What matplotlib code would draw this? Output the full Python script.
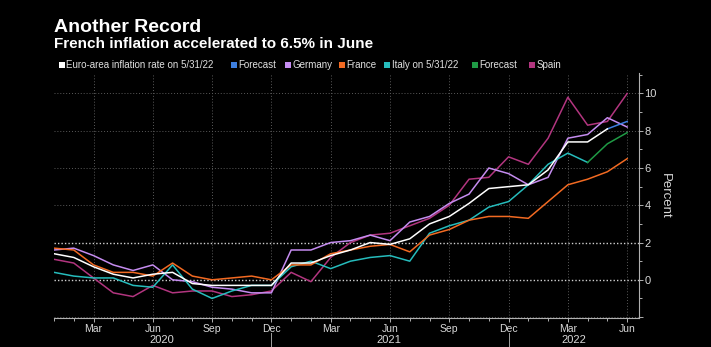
import numpy as np
import matplotlib
matplotlib.use("Agg")
import matplotlib.pyplot as plt
from matplotlib.patches import Rectangle
from matplotlib.transforms import blended_transform_factory

plt.rcParams["font.family"] = ["Liberation Sans", "DejaVu Sans"]

# Monthly year-on-year inflation, Jan 2020 .. Jun 2022 (percent)
month_names = ["Jan", "Feb", "Mar", "Apr", "May", "Jun",
               "Jul", "Aug", "Sep", "Oct", "Nov", "Dec"]
years = ["2020", "2021", "2022"]

euro_area = [1.4, 1.2, 0.7, 0.3, 0.1, 0.3, 0.4, -0.2, -0.3, -0.3, -0.3, -0.3,
             0.9, 0.9, 1.3, 1.6, 2.0, 1.9, 2.2, 3.0, 3.4, 4.1, 4.9, 5.0,
             5.1, 5.9, 7.4, 7.4, 8.1]
euro_forecast = [8.1, 8.5]                      # May -> Jun 2022
germany = [1.6, 1.7, 1.3, 0.8, 0.5, 0.8, 0.0, -0.1, -0.4, -0.5, -0.7, -0.7,
           1.6, 1.6, 2.0, 2.1, 2.4, 2.1, 3.1, 3.4, 4.1, 4.6, 6.0, 5.7,
           5.1, 5.5, 7.6, 7.8, 8.7, 8.2]
france = [1.7, 1.6, 0.8, 0.4, 0.4, 0.2, 0.9, 0.2, 0.0, 0.1, 0.2, 0.0,
          0.8, 0.8, 1.4, 1.6, 1.8, 1.9, 1.5, 2.4, 2.7, 3.2, 3.4, 3.4,
          3.3, 4.2, 5.1, 5.4, 5.8, 6.5]
italy = [0.4, 0.2, 0.1, 0.1, -0.3, -0.4, 0.8, -0.5, -1.0, -0.6, -0.3, -0.3,
         0.7, 1.0, 0.6, 1.0, 1.2, 1.3, 1.0, 2.5, 2.9, 3.2, 3.9, 4.2,
         5.1, 6.2, 6.8, 6.3]
italy_forecast = [6.3, 7.3, 7.9]                # Apr -> Jun 2022
spain = [1.1, 0.9, 0.1, -0.7, -0.9, -0.3, -0.7, -0.6, -0.6, -0.9, -0.8, -0.6,
         0.4, -0.1, 1.2, 2.0, 2.4, 2.5, 2.9, 3.3, 4.0, 5.4, 5.5, 6.6,
         6.2, 7.6, 9.8, 8.3, 8.5, 10.0]

legend_labels = ["Euro-area inflation rate on 5/31/22", "Forecast", "Germany",
                 "France", "Italy on 5/31/22", "Forecast", "Spain"]
colors = ["#ffffff", "#3d7fe0", "#c58cf0", "#f26a22", "#26bcbc", "#1f9a45",
          "#b2357f"]

W, H = 711, 347
fig = plt.figure(figsize=(W / 100, H / 100), dpi=100, facecolor="black")
ax = fig.add_axes([54 / W, 1 - 318 / H, (639 - 54) / W, (318 - 73) / H])
ax.set_facecolor("black")

n = len(france)
x_all = np.arange(n)

# grid
quarters = np.arange(2, n, 3)
for q in quarters:
    ax.axvline(q, color="#5a5a5a", lw=0.7, ls=(0, (1, 2)), zorder=1)
for yv in [-2, 4, 6, 8, 10]:
    ax.axhline(yv, color="#5a5a5a", lw=0.7, ls=(0, (1, 2)), zorder=1)
for yv in [0, 2]:
    ax.axhline(yv, color="#d0d0d0", lw=1.0, ls=(0, (1, 1.5)), zorder=1)

lw = 1.1
ax.plot(np.arange(len(spain)), spain, color=colors[6], lw=lw, zorder=3)
ax.plot(np.arange(len(germany)), germany, color=colors[2], lw=lw, zorder=4)
ax.plot(np.arange(len(italy)), italy, color=colors[4], lw=lw, zorder=4)
ax.plot(np.arange(len(italy) - 1, len(italy) - 1 + len(italy_forecast)),
        italy_forecast, color=colors[5], lw=lw, zorder=4)
ax.plot(np.arange(len(france)), france, color=colors[3], lw=lw, zorder=5)
ax.plot(np.arange(len(euro_area) - 1, len(euro_area) - 1 + len(euro_forecast)),
        euro_forecast, color=colors[1], lw=lw, zorder=5)
ax.plot(np.arange(len(euro_area)), euro_area, color=colors[0], lw=lw, zorder=6)

ax.set_xlim(0, 29.6)
ax.set_ylim(-2.05, 11.1)

for s in ["top", "left"]:
    ax.spines[s].set_visible(False)
for s in ["bottom", "right"]:
    ax.spines[s].set_color("#b0b0b0")
    ax.spines[s].set_linewidth(0.8)

ax.set_xticks(quarters)
ax.set_xticklabels([month_names[q % 12] for q in quarters])
ax.set_xticks(x_all, minor=True)
ax.tick_params(axis="x", which="major", length=3, width=0.7, color="#b0b0b0",
               labelsize=7.5, labelcolor="#d8d8d8", pad=1.5)
ax.tick_params(axis="x", which="minor", length=2.5, width=0.7, color="#b0b0b0")

ax.yaxis.tick_right()
ax.set_yticks([-2, 0, 2, 4, 6, 8, 10])
ax.set_yticklabels(["", "0", "2", "4", "6", "8", "10"])
ax.set_yticks(np.arange(-1, 12, 2), minor=True)
ax.tick_params(axis="y", which="major", length=3, width=0.7, color="#b0b0b0",
               labelsize=8, labelcolor="#d8d8d8", pad=1)
ax.tick_params(axis="y", which="minor", length=2, width=0.7, color="#b0b0b0")
ax.yaxis.set_label_position("right")
ax.set_ylabel("Percent", rotation=-90, color="#d8d8d8", fontsize=9.5,
              va="center", ha="center")
ax.yaxis.set_label_coords((665 - 54) / (639 - 54), 0.498)

# year labels and separators under the axis
bt = blended_transform_factory(ax.transData, ax.transAxes)
for yr, xpos in zip(years, [5.47, 16.96, 26.3]):
    ax.text(xpos, -0.09, yr, transform=bt, ha="center", va="center",
            fontsize=8, color="#d8d8d8")
for sep in [11, 23]:
    ax.plot([sep, sep], [-0.061, -0.12], transform=bt, clip_on=False,
            color="#a0a0a0", lw=0.7)

# titles
fig.text(54 / W, 1 - 32 / H, "Another Record", fontsize=14, fontweight="bold",
         color="white", va="baseline")
fig.text(54 / W, 1 - 48 / H, "French inflation accelerated to 6.5% in June",
         fontsize=11, fontweight="bold", color="white", va="baseline")

# legend row
square_x = [59, 231, 285, 339, 384, 472, 529]
for sx, lab, c in zip(square_x, legend_labels, colors):
    fig.patches.append(Rectangle((sx / W, 1 - 68 / H), 6 / W, 6.5 / H,
                                 transform=fig.transFigure, facecolor=c,
                                 edgecolor="none"))
    fig.text((sx + 7.5) / W, 1 - 68 / H, lab, fontsize=7, color="#e0e0e0",
             va="baseline")

fig.savefig("out.png", dpi=100, facecolor="black")
